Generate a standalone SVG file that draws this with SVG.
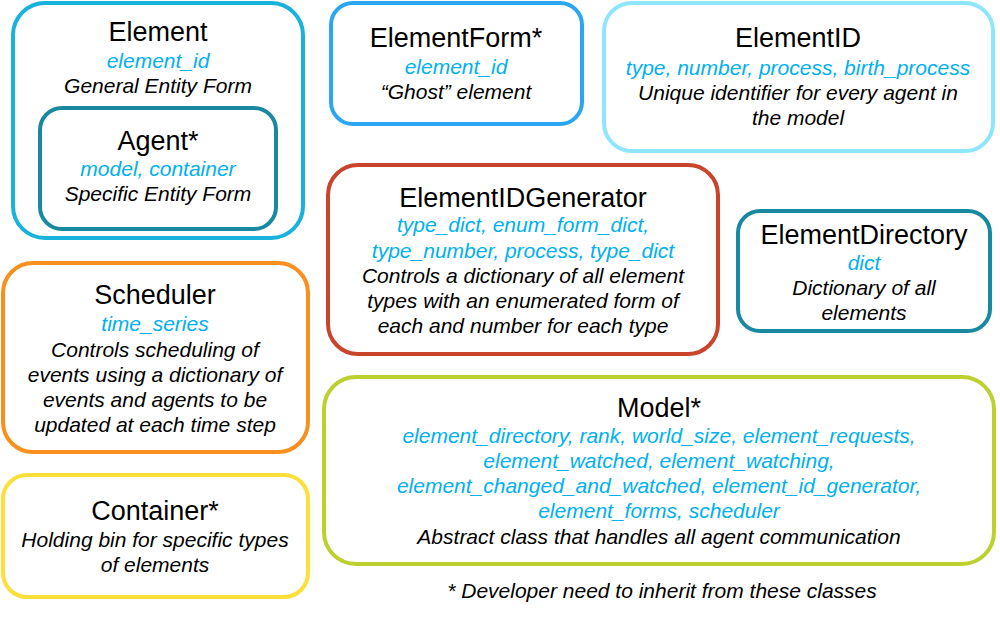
<svg xmlns="http://www.w3.org/2000/svg" width="1000" height="618" viewBox="0 0 1000 618">
<style>
  text { font-family: "Liberation Sans", Arial, sans-serif; text-anchor: middle; }
  .box { fill: none; stroke-width: 4; }
  .t { font-size: 27px; fill: #000; }
  .a { font-size: 21px; font-style: italic; fill: #00B0F0; }
  .d { font-size: 21px; font-style: italic; fill: #000; }
</style>
<rect width="1000" height="618" fill="#fff"/>
<g id="connectors"></g>
<g id="element">
  <rect class="box" x="13" y="3" width="290" height="235" rx="32" stroke="#19B2DC"/>
  <text class="t" x="158" y="41">Element</text>
  <text class="a" x="158" y="68">element_id</text>
  <text class="d" x="158" y="93">General Entity Form</text>
</g>
<g id="agent">
  <rect class="box" x="40" y="108" width="236" height="121" rx="22" stroke="#1889A0"/>
  <text class="t" x="158" y="150">Agent*</text>
  <text class="a" x="158" y="176">model, container</text>
  <text class="d" x="158" y="201">Specific Entity Form</text>
</g>
<g id="elementform">
  <rect class="box" x="331" y="3" width="251" height="121" rx="22" stroke="#2AA6F2"/>
  <text class="t" x="456" y="47">ElementForm*</text>
  <text class="a" x="456" y="74">element_id</text>
  <text class="d" x="456" y="99">“Ghost” element</text>
</g>
<g id="elementid">
  <rect class="box" x="604" y="3" width="389" height="148" rx="28" stroke="#8DE6FB"/>
  <text class="t" x="798" y="47">ElementID</text>
  <text class="a" x="798" y="75">type, number, process, birth_process</text>
  <text class="d" x="798" y="100">Unique identifier for every agent in</text>
  <text class="d" x="798" y="125">the model</text>
</g>
<g id="elementidgenerator">
  <rect class="box" x="328" y="165" width="390" height="189" rx="30" stroke="#C9442B"/>
  <text class="t" x="523" y="207">ElementIDGenerator</text>
  <text class="a" x="523" y="232">type_dict, enum_form_dict,</text>
  <text class="a" x="523" y="258">type_number, process, type_dict</text>
  <text class="d" x="523" y="283">Controls a dictionary of all element</text>
  <text class="d" x="523" y="308">types with an enumerated form of</text>
  <text class="d" x="523" y="333">each and number for each type</text>
</g>
<g id="elementdirectory">
  <rect class="box" x="738" y="211" width="252" height="120" rx="22" stroke="#1889A0"/>
  <text class="t" x="864" y="244">ElementDirectory</text>
  <text class="a" x="864" y="270">dict</text>
  <text class="d" x="864" y="295">Dictionary of all</text>
  <text class="d" x="864" y="320">elements</text>
</g>
<g id="scheduler">
  <rect class="box" x="3" y="263" width="305" height="189" rx="30" stroke="#F7901E"/>
  <text class="t" x="155" y="304">Scheduler</text>
  <text class="a" x="155" y="331">time_series</text>
  <text class="d" x="155" y="357">Controls scheduling of</text>
  <text class="d" x="155" y="382">events using a dictionary of</text>
  <text class="d" x="155" y="407">events and agents to be</text>
  <text class="d" x="155" y="432">updated at each time step</text>
</g>
<g id="container">
  <rect class="box" x="3" y="475" width="305" height="122" rx="24" stroke="#FCDF3A"/>
  <text class="t" x="155" y="520">Container*</text>
  <text class="d" x="155" y="547">Holding bin for specific types</text>
  <text class="d" x="155" y="572">of elements</text>
</g>
<g id="model">
  <rect class="box" x="324" y="377" width="670" height="187" rx="32" stroke="#BCD030"/>
  <text class="t" x="659" y="417">Model*</text>
  <text class="a" x="659" y="443">element_directory, rank, world_size, element_requests,</text>
  <text class="a" x="659" y="468">element_watched, element_watching,</text>
  <text class="a" x="659" y="493">element_changed_and_watched, element_id_generator,</text>
  <text class="a" x="659" y="518">element_forms, scheduler</text>
  <text class="d" x="659" y="544">Abstract class that handles all agent communication</text>
</g>
<g id="footnote">
  <text class="d" x="662" y="598">* Developer need to inherit from these classes</text>
</g>
</svg>
